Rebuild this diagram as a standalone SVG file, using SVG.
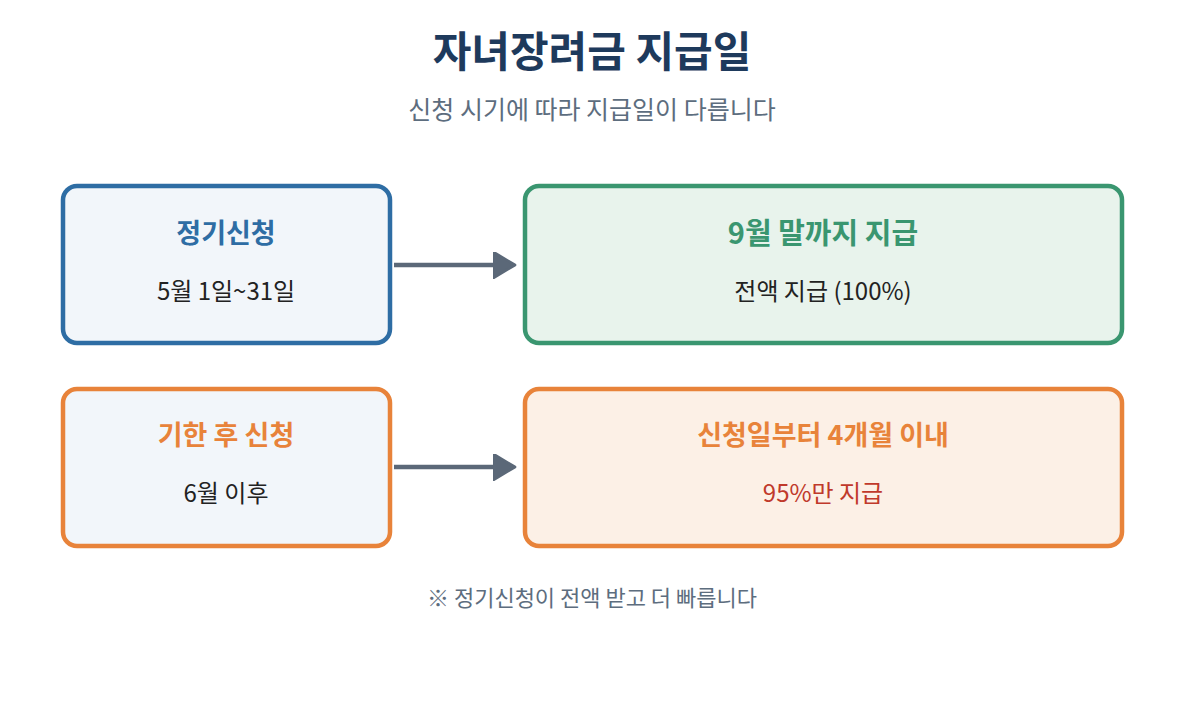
<svg xmlns="http://www.w3.org/2000/svg" width="1185" height="704" viewBox="0 0 1185 704">
<style>
text{font-family:"Noto Sans CJK KR","Noto Sans",sans-serif;text-anchor:middle}
.box{stroke-width:4.5}
.h{font-size:27px;font-weight:700}
.s{font-size:24px;fill:#222}
.arr{stroke:#5b6878;stroke-width:4.5;fill:none}
</style>
<defs>
<marker id="ah" markerWidth="6" markerHeight="6" refX="1" refY="3" orient="auto" markerUnits="strokeWidth"><path d="M0,0 L5,3 L0,6 Z" fill="#5b6878" stroke="#5b6878" stroke-width="0.6" stroke-linejoin="round"/></marker>
</defs>
<rect width="1185" height="704" fill="#ffffff"/>
<text x="592" y="67" style="font-size:42px;font-weight:700;fill:#1e3a5c">자녀장려금 지급일</text>
<text x="592" y="119" style="font-size:25px;fill:#5d6d7e">신청 시기에 따라 지급일이 다릅니다</text>
<g id="node-regular">
<rect class="box" x="63" y="186" width="327" height="157" rx="14" fill="#f2f6fa" stroke="#2e6da4"/>
<text class="h" x="226" y="243" fill="#2e6da4">정기신청</text>
<text class="s" x="226" y="300">5월 1일~31일</text>
</g>
<g id="node-sept">
<rect class="box" x="525" y="186" width="597" height="157" rx="14" fill="#e8f3ec" stroke="#3a9670"/>
<text class="h" x="823" y="244" fill="#3a9670" style="font-size:29px">9월 말까지 지급</text>
<text class="s" x="823" y="300">전액 지급 (100%)</text>
</g>
<g id="node-late">
<rect class="box" x="63" y="389" width="327" height="157" rx="14" fill="#f2f6fa" stroke="#e8833a"/>
<text class="h" x="226" y="445" fill="#e8833a">기한 후 신청</text>
<text class="s" x="226" y="502">6월 이후</text>
</g>
<g id="node-4month">
<rect class="box" x="525" y="389" width="597" height="157" rx="14" fill="#fcf0e6" stroke="#e8833a"/>
<text class="h" x="823" y="445" fill="#e8833a">신청일부터 4개월 이내</text>
<text class="s" x="823" y="502" style="fill:#c0392b">95%만 지급</text>
</g>
<g id="connectors">
<line class="arr" x1="394" y1="265" x2="497" y2="265" marker-end="url(#ah)"/>
<line class="arr" x1="394" y1="467" x2="497" y2="467" marker-end="url(#ah)"/>
</g>
<text x="592" y="606" style="font-size:22px;fill:#5d6d7e">※ 정기신청이 전액 받고 더 빠릅니다</text>
</svg>
